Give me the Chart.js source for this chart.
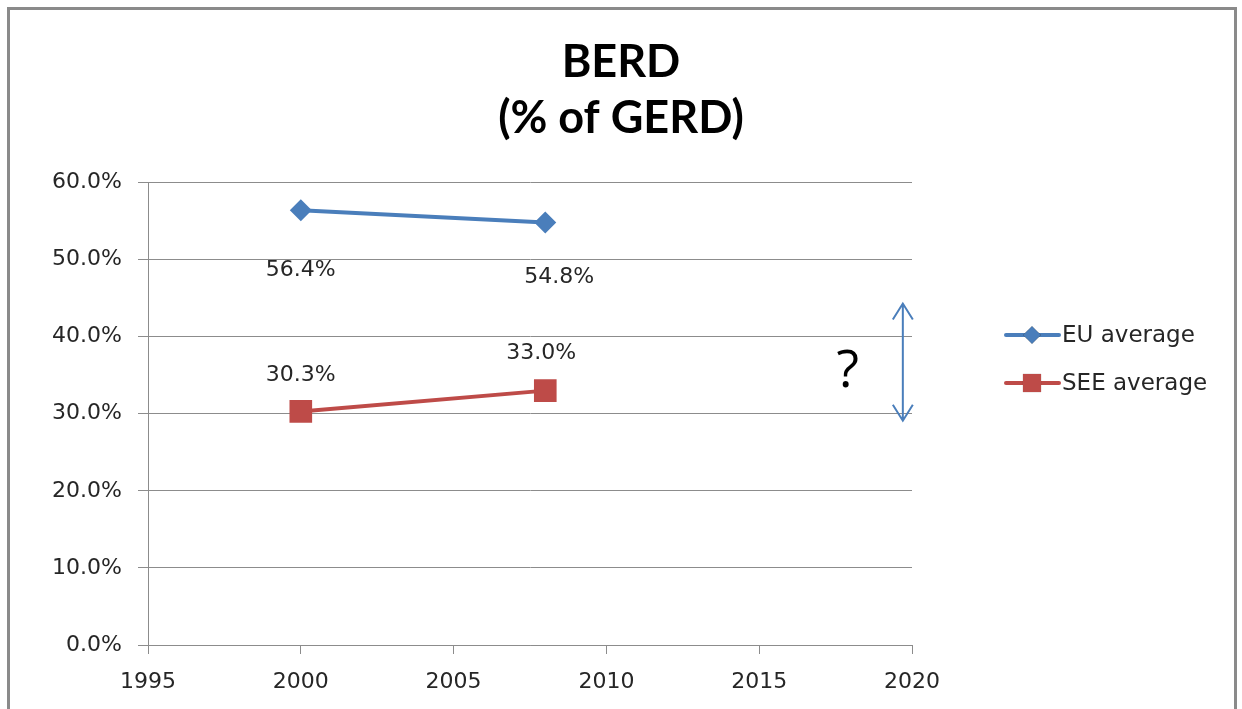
<!DOCTYPE html>
<html>
<head>
<meta charset="utf-8">
<script src="https://cdn.jsdelivr.net/npm/chart.js@4/dist/chart.umd.min.js"></script>
<style>
  html, body { margin: 0; padding: 0; background: #fff; overflow: hidden; }
  #wrap { position: relative; width: 1242px; height: 709px; }
  #frame { position: absolute; left: 7px; top: 7px; width: 1224px; height: 720px; border: 3px solid #8a8a8a; pointer-events: none; }
</style>
</head>
<body>
<div id="wrap"><canvas id="BerdChart"></canvas><div id="frame"></div></div>
<script>
let Years = [2000, 2008];
let EuAverage = [56.4, 54.8];
let SeeAverage = [30.3, 33.0];
let SeriesNames = ["EU average", "SEE average"];
let TitleLines = ["BERD", "(% of GERD)"];

// the "?" and the double arrow showing the gap
let GapArrowYear = 2019.7;
let GapArrowRange = [29.1, 44.3];
let GapMarkYear = 2017.9;
let GapMarkValue = 35.4;

const blue = "#4a7ebb";
const red = "#be4b48";
const gridGray = "#8c8c8c";
const labelFont = "22px 'DejaVu Sans'";

// data labels, legend and the gap arrow
const extras = {
    id: "extras",
    afterDatasetsDraw(chart) {
        const ctx = chart.ctx;
        const x = chart.scales.x, y = chart.scales.y;
        ctx.save();
        ctx.font = labelFont;
        ctx.fillStyle = "#262626";
        ctx.textAlign = "center";
        ctx.textBaseline = "middle";
        const shifts = [[[0, 60], [14, 55]], [[0, -36], [-4, -37]]];
        chart.data.datasets.forEach((ds, i) => {
            chart.getDatasetMeta(i).data.forEach((pt, j) => {
                ctx.fillText(ds.data[j].y.toFixed(1) + "%", pt.x + shifts[i][j][0], pt.y + shifts[i][j][1]);
            });
        });

        // legend
        ctx.font = "23px 'DejaVu Sans'";
        ctx.textAlign = "left";
        chart.data.datasets.forEach((ds, i) => {
            const ly = 335 + i * 48;
            ctx.strokeStyle = ds.borderColor;
            ctx.lineWidth = 4;
            ctx.lineCap = "round";
            ctx.beginPath();
            ctx.moveTo(1006, ly);
            ctx.lineTo(1059, ly);
            ctx.stroke();
            Chart.helpers.drawPoint(ctx, {pointStyle: ds.pointStyle, radius: ds.pointRadius * 0.8, borderWidth: 0}, 1032, ly);
            ctx.fillStyle = ds.backgroundColor;
            ctx.fill();
            ctx.fillStyle = "#262626";
            ctx.fillText(SeriesNames[i], 1062, ly + 1);
        });

        // gap arrow
        const ax = x.getPixelForValue(GapArrowYear);
        const top = y.getPixelForValue(GapArrowRange[1]);
        const bot = y.getPixelForValue(GapArrowRange[0]);
        ctx.strokeStyle = blue;
        ctx.lineWidth = 2;
        ctx.lineCap = "butt";
        ctx.beginPath();
        ctx.moveTo(ax, top);
        ctx.lineTo(ax, bot);
        ctx.moveTo(ax - 10, top + 16);
        ctx.lineTo(ax, top);
        ctx.lineTo(ax + 10, top + 16);
        ctx.moveTo(ax - 10, bot - 16);
        ctx.lineTo(ax, bot);
        ctx.lineTo(ax + 10, bot - 16);
        ctx.stroke();

        ctx.font = "52px 'Open Sans'";
        ctx.fillStyle = "#000";
        ctx.textAlign = "center";
        ctx.fillText("?", x.getPixelForValue(GapMarkYear), y.getPixelForValue(GapMarkValue));
        ctx.restore();
    }
};

new Chart("BerdChart", {
    type: "line",
    data: {
        datasets: [{
            label: SeriesNames[0],
            data: Years.map((yr, i) => ({x: yr, y: EuAverage[i]})),
            borderColor: blue,
            backgroundColor: blue,
            borderWidth: 4,
            pointStyle: "rectRot",
            pointRadius: 11,
            pointBorderWidth: 0
        }, {
            label: SeriesNames[1],
            data: Years.map((yr, i) => ({x: yr, y: SeeAverage[i]})),
            borderColor: red,
            backgroundColor: red,
            borderWidth: 4,
            pointStyle: "rect",
            pointRadius: 16,
            pointBorderWidth: 0
        }]
    },
    options: {
        responsive: true,
        maintainAspectRatio: false,
        animation: false,
        layout: {padding: 0},
        plugins: {
            legend: {display: false},
            tooltip: {enabled: false},
            title: {
                display: true,
                text: TitleLines,
                color: "#000",
                font: {family: "Lato", size: 45, weight: "bold", lineHeight: 1.25},
                padding: {top: 34, bottom: 36}
            }
        },
        scales: {
            x: {
                type: "linear",
                min: 1995,
                max: 2020,
                afterFit: s => { s.height = 64; },
                ticks: {
                    stepSize: 5,
                    color: "#262626",
                    font: {family: "DejaVu Sans", size: 22},
                    padding: 15,
                    callback: v => String(v)
                },
                grid: {drawOnChartArea: false, color: gridGray, tickLength: 9},
                border: {color: gridGray}
            },
            y: {
                min: 0,
                max: 60,
                afterFit: s => { s.width = 148; },
                ticks: {
                    stepSize: 10,
                    color: "#262626",
                    font: {family: "DejaVu Sans", size: 22},
                    padding: 16,
                    callback: v => v.toFixed(1) + "%"
                },
                grid: {color: gridGray, tickLength: 10},
                border: {color: gridGray}
            },
            side: {
                position: "right",
                afterFit: s => { s.width = 330; },
                ticks: {display: false},
                grid: {display: false},
                border: {display: false}
            }
        }
    },
    plugins: [extras]
});
</script>
</body>
</html>
